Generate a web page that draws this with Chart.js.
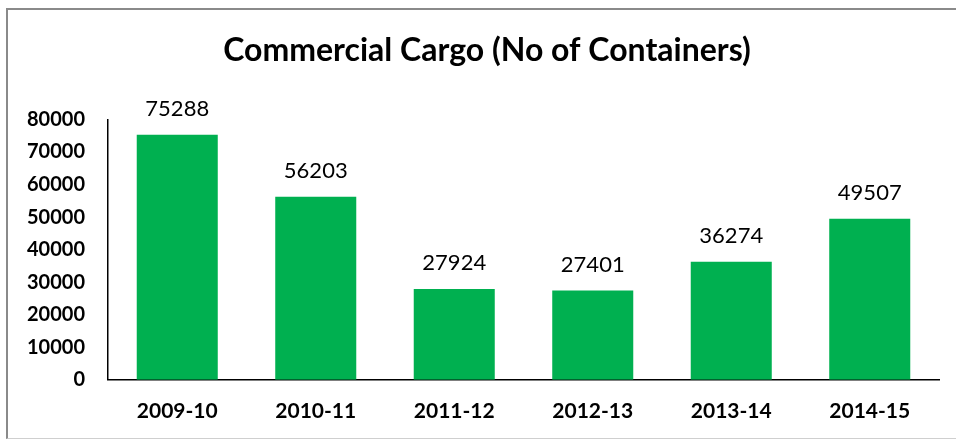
<!DOCTYPE html>
<html>
<head>
  <title>Commercial Cargo</title>
  <script src="https://cdn.jsdelivr.net/npm/chart.js"></script>
  <style>
    html, body { margin: 0; padding: 0; background: #fff; }
    .frame {
      position: absolute; left: 6px; top: 8px; width: 960px; height: 428px;
      border-left: 2px solid #8a8a8a; border-top: 2px solid #8a8a8a;
      border-bottom: 1px solid #cfcfcf;
    }
    .wrap { position: absolute; left: 0; top: 0; width: 956px; height: 439px; }
  </style>
</head>
<body>
  <div class="frame"></div>
  <div class="wrap"><canvas id="cargoChart" width="956" height="439"></canvas></div>

  <script>
    const years = ["2009-10", "2010-11", "2011-12", "2012-13", "2013-14", "2014-15"];
    const containers = [75288, 56203, 27924, 27401, 36274, 49507];
    const yTicks = [0, 10000, 20000, 30000, 40000, 50000, 60000, 70000, 80000];

    // draws the value above each bar
    const valueLabels = {
      id: 'valueLabels',
      afterDatasetsDraw(chart) {
        const ctx = chart.ctx;
        const meta = chart.getDatasetMeta(0);
        ctx.save();
        ctx.font = '22px Lato';
        ctx.fillStyle = '#000';
        ctx.textAlign = 'center';
        ctx.textBaseline = 'alphabetic';
        meta.data.forEach((bar, i) => {
          ctx.fillText(String(containers[i]), bar.x, bar.y - 19);
        });
        ctx.restore();
      }
    };

    // nudge the title so it sits where the original one does
    const titleShift = {
      id: 'titleShift',
      afterLayout(chart) {
        if (chart.titleBlock) chart.titleBlock.left += 27;
      }
    };

    new Chart(document.getElementById("cargoChart"), {
      type: 'bar',
      data: {
        labels: years,
        datasets: [{
          data: containers,
          backgroundColor: '#00B050',
          barPercentage: 0.585,
          categoryPercentage: 1
        }]
      },
      options: {
        responsive: false,
        animation: false,
        layout: { padding: { left: 8, right: 17, top: 31, bottom: -4 } },
        plugins: {
          legend: { display: false },
          tooltip: { enabled: false },
          title: {
            display: true,
            text: 'Commercial Cargo (No of Containers)',
            color: '#000',
            font: { family: 'Lato', size: 32, weight: 'bold' },
            padding: { top: 0, bottom: 50 }
          }
        },
        scales: {
          x: {
            grid: { display: false, drawTicks: false },
            border: { display: true, color: '#000', width: 1.5 },
            ticks: {
              color: '#000',
              padding: 19,
              font: { family: 'Lato', size: 21, weight: 'bold' }
            }
          },
          y: {
            min: 0,
            max: 80000,
            afterBuildTicks(axis) { axis.ticks = yTicks.map(v => ({ value: v })); },
            afterFit(axis) { axis.width = 100; },
            grid: { display: false, drawTicks: false },
            border: { display: true, color: '#000', width: 1.5 },
            ticks: {
              color: '#000',
              padding: 23,
              callback: v => String(v),
              font: { family: 'Lato', size: 20, weight: 'bold' }
            }
          }
        }
      },
      plugins: [valueLabels, titleShift]
    });
  </script>
</body>
</html>
